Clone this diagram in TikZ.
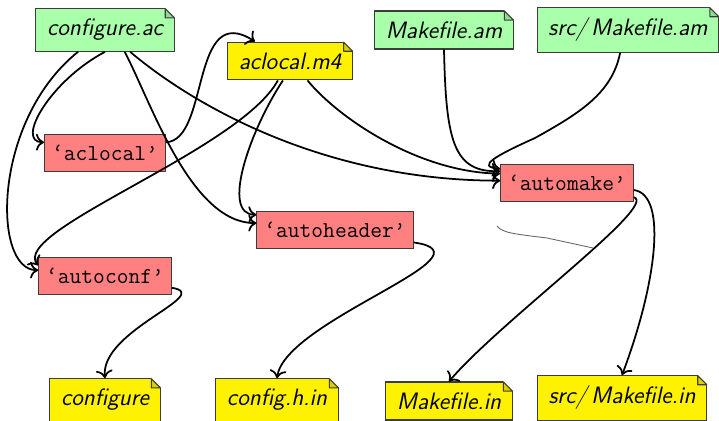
\documentclass[tikz,border=0pt]{standalone}
\usetikzlibrary{arrows.meta}

\definecolor{srcgreen}{RGB}{170,255,170}
\definecolor{genyellow}{RGB}{255,242,0}
\definecolor{toolred}{RGB}{255,128,128}
\definecolor{boxline}{RGB}{60,60,60}

% dog-ear on the top right corner of a file box
\def\foldcorner(#1)(#2){
	\fill[white] ([xshift=-5.5pt]#1.north east) -- ++(0,2pt) -- ++(7.5pt,0) -- ++(0,-7.5pt)
		-- ([yshift=-5.5pt]#1.north east) -- cycle;
	\draw[boxline, fill=#2!85!black, line width=0.6pt, line join=bevel]
		([xshift=-5.5pt,yshift=-0.3pt]#1.north east) |- ([xshift=-0.3pt,yshift=-5.5pt]#1.north east) -- cycle;
}

\tikzset{
	filebox/.style={rectangle, draw=boxline, fill=#1, line width=0.6pt,
		inner xsep=6.5pt, inner ysep=6pt, font=\fontsize{13.5}{16}\selectfont\sffamily\itshape},
	srcfile/.style={filebox=srcgreen},
	genfile/.style={filebox=genyellow},
	toolbox/.style={rectangle, draw=boxline, fill=toolred, line width=0.6pt,
		inner xsep=4.3pt, inner ysep=6.3pt, font=\fontsize{13}{15}\selectfont\ttfamily},
	flow/.style={-{Computer Modern Rightarrow[scale=1.2]}, line width=1pt}
}

\begin{document}
\begin{tikzpicture}[x=0.02cm, y=-0.02cm]
			%%%%% START %%%%%
			\useasboundingbox (0,0) rectangle (719,421);
			
			\node[srcfile] (cfgac) at (105,30) {configure.ac};
			\node[genfile] (acm4) at (290,61) {aclocal.m4};
			\node[srcfile] (mkam) at (444,30) {Makefile.am};
			\node[srcfile] (srcam) at (628,30) {src/\,Makefile.am};
			
			\node[toolbox] (aclocal) at (105,153) {‘aclocal’};
			\node[toolbox] (autoheader) at (335,230) {‘autoheader’};
			\node[toolbox] (automake) at (567,183) {‘automake’};
			\node[toolbox] (autoconf) at (105,276) {‘autoconf’};
			
			\node[genfile] (configure) at (105,400) {configure};
			\node[genfile] (confighin) at (277,400) {config.h.in};
			\node[genfile] (mkin) at (449,401) {Makefile.in};
			\node[genfile] (srcin) at (622,398) {src/\,Makefile.in};
			
			\foldcorner(cfgac)(srcgreen)
			\foldcorner(mkam)(srcgreen)
			\foldcorner(srcam)(srcgreen)
			\foldcorner(acm4)(genyellow)
			\foldcorner(configure)(genyellow)
			\foldcorner(confighin)(genyellow)
			\foldcorner(mkin)(genyellow)
			\foldcorner(srcin)(genyellow)
			
			% inputs
			\draw[flow] (cfgac.south) .. controls +(-55,29) and +(-29,0) .. (aclocal.170);
			\draw[flow] (cfgac.-141) .. controls +(-86,69) and +(-46,0) .. (autoconf.175);
			\draw[flow] (cfgac.-48) .. controls +(26,49) and +(-66,0) .. (autoheader.175);
			\draw[flow] (cfgac.-41) .. controls +(70,59) and +(-169,0) .. (automake.178);
			
			\draw[flow] (aclocal.10) .. controls +(44,-2) and +(-65,-42) .. (acm4.151);
			
			\draw[flow] (acm4.-122) .. controls +(-38,70) and +(-28,-35) .. (autoconf.171);
			\draw[flow] (acm4.-110) .. controls +(-33,50) and +(-36,0) .. (autoheader.169);
			\draw[flow] (acm4.-48) .. controls +(33,40) and +(-79,-1) .. (automake.172);
			
			\draw[flow] (mkam.south) .. controls +(2,91) and +(-47,1) .. (automake.170);
			\draw[flow] (srcam.-109) .. controls +(-8,40) and +(45,-25) .. (535,138)
				.. controls +(-40,18) and +(-24,-2) .. (automake.168);
			
			% outputs
			\draw[flow] (autoconf.-10) .. controls +(43,7) and +(-5,-48) .. (configure.north);
			\draw[flow] (autoheader.-9) .. controls +(86,12) and +(8,-58) .. (confighin.north);
			\draw[flow] (automake.-12) .. controls +(25,8) and +(51,-60) .. (mkin.north);
			\draw[flow] (automake.-6) .. controls +(35,5) and +(33,-87) .. (srcin.north);
			
			\draw[black!60, line width=0.5pt] (497,226) .. controls (502,233) and (515,234) .. (547,238) -- (593,248);
			%%%%% END %%%%%
\end{tikzpicture}
\end{document}
